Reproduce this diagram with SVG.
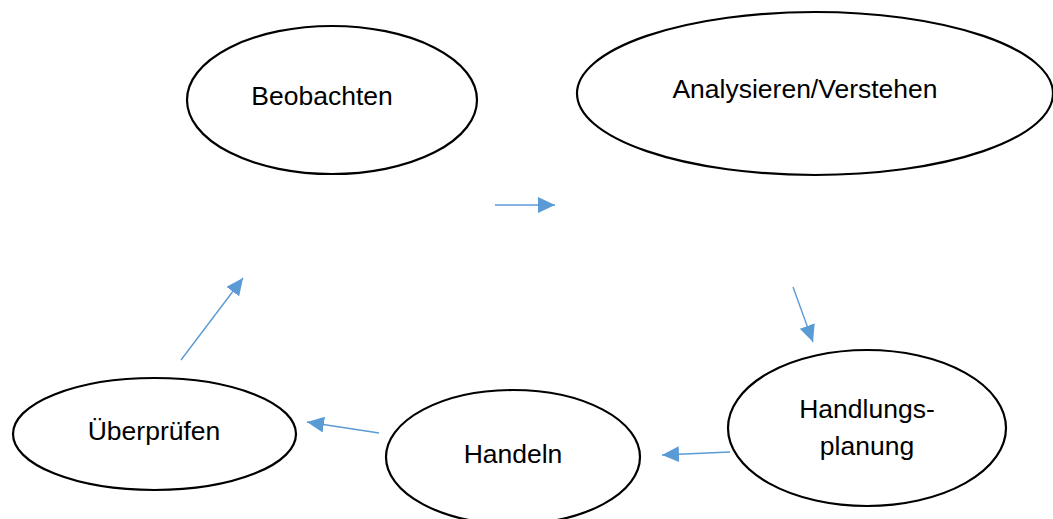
<svg xmlns="http://www.w3.org/2000/svg" width="1053" height="519" viewBox="0 0 1053 519">
<style>
.node ellipse{fill:#fff;stroke:#000;stroke-width:2.2}
.node text{font-family:"Liberation Sans",Arial,sans-serif;font-size:26.5px;fill:#000;text-anchor:middle}
.conn line{stroke:#5B9BD5;stroke-width:1.4;marker-end:url(#ah)}
</style>
<defs>
<marker id="ah" markerUnits="userSpaceOnUse" markerWidth="17" markerHeight="16" refX="17" refY="8" orient="auto">
<path d="M0,0 L17,8 L0,16 z" fill="#5B9BD5"/>
</marker>
</defs>
<rect width="1053" height="519" fill="#fff"/>
<g id="beobachten" class="node">
<ellipse cx="332" cy="100" rx="145" ry="74"/>
<text x="322" y="105">Beobachten</text>
</g>
<g id="analysieren" class="node">
<ellipse cx="815" cy="93.5" rx="238" ry="81.5"/>
<text x="805" y="98">Analysieren/Verstehen</text>
</g>
<g id="handlungsplanung" class="node">
<ellipse cx="867" cy="428" rx="139" ry="78"/>
<text x="867" y="418">Handlungs-</text>
<text x="867" y="455">planung</text>
</g>
<g id="handeln" class="node">
<ellipse cx="513" cy="457" rx="127" ry="67"/>
<text x="513" y="463">Handeln</text>
</g>
<g id="ueberpruefen" class="node">
<ellipse cx="154.5" cy="434" rx="141.5" ry="56"/>
<text x="154" y="440">Überprüfen</text>
</g>
<g id="connectors" class="conn">
<line x1="495" y1="205" x2="555" y2="205"/>
<line x1="793" y1="287" x2="813" y2="342"/>
<line x1="730" y1="452" x2="662" y2="455"/>
<line x1="379" y1="433" x2="307" y2="422"/>
<line x1="181" y1="360" x2="243" y2="278"/>
</g>
</svg>
